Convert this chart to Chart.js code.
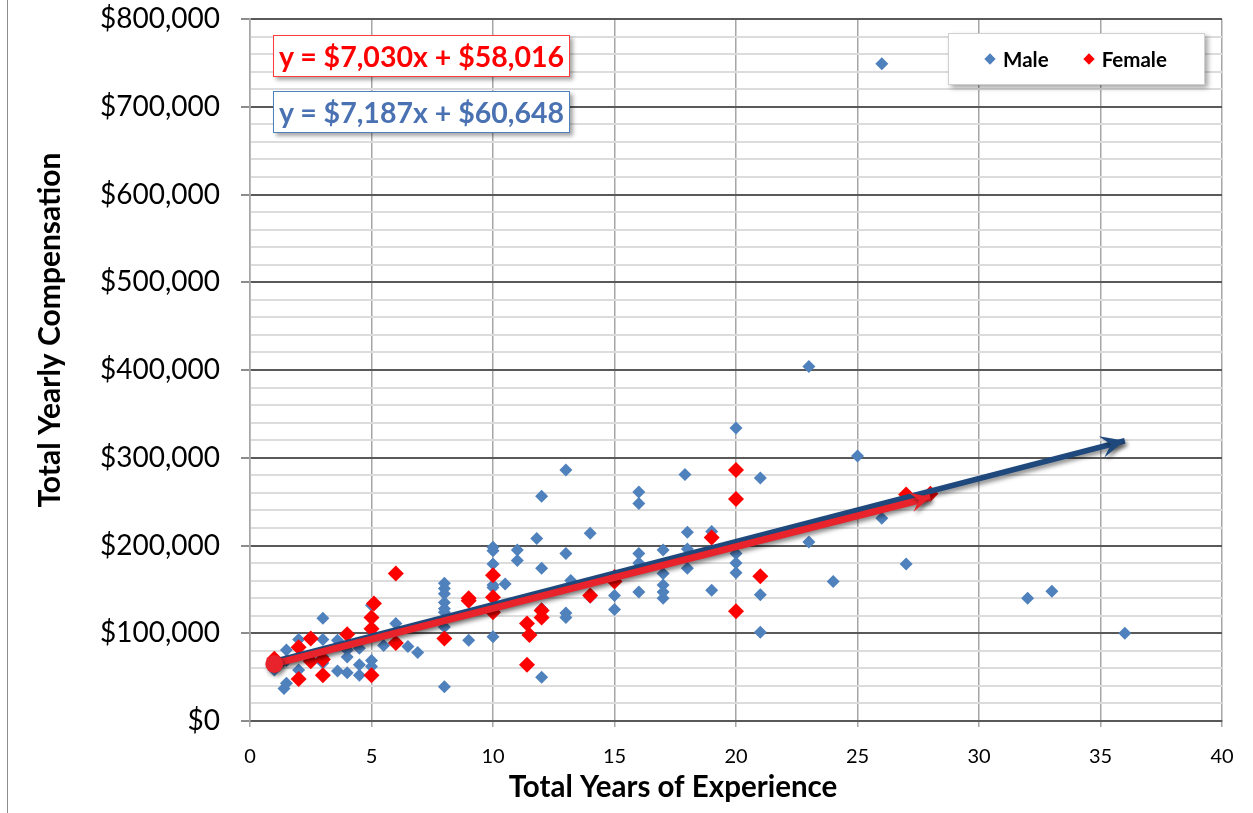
<!DOCTYPE html>
<html>
<head>
<meta charset="utf-8">
<script src="https://cdn.jsdelivr.net/npm/chart.js@4.4.1/dist/chart.umd.min.js"></script>
<style>
  html, body { margin: 0; padding: 0; background: #fff; }
  #wrap { position: relative; width: 1253px; height: 813px; }
  #frame { position: absolute; left: 7px; top: 0; width: 1px; height: 813px; background: #8c8c8c; }
  .eq { position: absolute; left: 273px; width: 295px; height: 40px; background: #fff;
        font: bold 28.5px Lato, sans-serif; text-align: center; line-height: 40px;
        box-shadow: 3px 3px 4px rgba(0,0,0,0.35); white-space: nowrap; }
  #eqF { top: 35px; border: 1px solid #ff3b3b; color: #ff0000; }
  #eqM { top: 91px; border: 1px solid #4f81bd; color: #4a72b2; }
  #legend { position: absolute; left: 948px; top: 33px; width: 255px; height: 50px; background: #fff;
            border: 1px solid #d0d0d0; box-shadow: 3px 3px 5px rgba(0,0,0,0.35);
            display: flex; align-items: center; justify-content: center; gap: 36px;
            font: bold 20.5px Lato, sans-serif; color: #000; }
  #legend .item { display: flex; align-items: center; }
  #legend .mark { width: 8px; height: 8px; transform: rotate(45deg); margin-right: 9px; }
</style>
</head>
<body>
<div id="wrap">
  <canvas id="chart" width="1253" height="813"></canvas>
  <div id="frame"></div>
  <div class="eq" id="eqF"></div>
  <div class="eq" id="eqM"></div>
  <div id="legend"></div>
</div>
<script>
// male points (years, compensation)
const maleYears = [
  1, 1.2, 1.4, 1.5, 1.5, 1.5, 2, 2, 3, 3, 3, 3, 3.6, 3.6, 4, 4, 4, 4.5, 4.5, 4.5,
  5, 5, 5, 5.5, 6, 6.5, 6.9, 8, 8, 8, 8, 8, 8, 8, 8, 9,
  10, 10, 10, 10, 10, 10, 10.5, 11, 11, 11.8, 12, 12, 12, 12, 13, 13, 13, 13, 13.2, 14, 14,
  15, 15, 16, 16, 16, 16, 16, 17, 17, 17, 17, 17, 17.9, 18, 18, 18, 19, 19, 20, 20, 20, 20, 21, 21, 21,
  23, 23, 24, 25, 26, 26, 27, 32, 33, 36
];
const maleComp = [
  58000, 64000, 37000, 43000, 69000, 81000, 58000, 93000, 66000, 73000, 93000, 117000, 57000, 92000, 55000, 73000, 81000, 52000, 64000, 83000,
  62000, 69000, 132000, 86000, 111000, 85000, 78000, 39000, 107000, 124000, 128000, 135000, 145000, 151000, 157000, 92000,
  96000, 152000, 155000, 179000, 194000, 198000, 156000, 183000, 195000, 208000, 50000, 128000, 174000, 256000, 118000, 123000, 191000, 286000, 160000, 141000, 214000,
  127000, 143000, 147000, 180000, 191000, 248000, 261000, 140000, 147000, 155000, 168000, 195000, 281000, 174000, 196000, 215000, 149000, 216000, 169000, 180000, 191000, 334000, 101000, 144000, 277000,
  204000, 404000, 159000, 302000, 231000, 749000, 179000, 140000, 148000, 100000
];
// female points
const femaleYears = [1, 1, 2, 2, 2.5, 2.5, 3, 3, 4, 5, 5, 5, 5.1, 6, 6, 8, 9, 9, 10, 10, 10,
  11.4, 11.4, 11.5, 12, 12, 14, 15, 15, 19, 20, 20, 20, 21, 27, 28];
const femaleComp = [66000, 71000, 48000, 84000, 68000, 94000, 52000, 70000, 99000, 52000, 105000, 118000, 134000, 89000, 168000, 94000, 137000, 140000, 124000, 141000, 166000,
  64000, 111000, 98000, 118000, 126000, 143000, 159000, 164000, 209000, 125000, 253000, 286000, 165000, 258000, 259000];

// trend lines: [slope, intercept, first x, last x]
const maleFit = [7187, 60648, 1, 36];
const femaleFit = [7030, 58016, 1, 28];

const xTicks = [0, 5, 10, 15, 20, 25, 30, 35, 40];
const yMax = 800000;

const BLUE = '#4f81bd', RED = '#ff0000', NAVY = '#1f497d', LINE_RED = '#e8232c';

Chart.defaults.font.family = 'Lato, sans-serif';

function pts(xs, ys) { return xs.map((x, i) => ({ x, y: ys[i] })); }
function fitLine(f) { return [f[2], f[3]].map(x => ({ x, y: f[0] * x + f[1] })); }
function money(v) { return '$' + Math.round(v).toLocaleString('en-US'); }

document.getElementById('eqF').textContent = 'y = ' + money(femaleFit[0]) + 'x + ' + money(femaleFit[1]);
document.getElementById('eqM').textContent = 'y = ' + money(maleFit[0]) + 'x + ' + money(maleFit[1]);

// shadow + arrow head for the trend lines
const trendPlugin = {
  id: 'trend',
  beforeDatasetDraw(chart, args) {
    const ds = chart.data.datasets[args.index];
    if (!ds.arrow) return;
    const ctx = chart.ctx;
    ctx.save();
    ctx.shadowColor = 'rgba(0,0,0,0.45)';
    ctx.shadowOffsetX = 2;
    ctx.shadowOffsetY = 3;
    ctx.shadowBlur = 4;
  },
  afterDatasetDraw(chart, args) {
    const ds = chart.data.datasets[args.index];
    if (!ds.arrow) return;
    const ctx = chart.ctx;
    const pts = args.meta.data;
    const a = pts[pts.length - 2], b = pts[pts.length - 1];
    const ang = Math.atan2(b.y - a.y, b.x - a.x);
    const [len, half] = ds.arrow;
    ctx.translate(b.x, b.y);
    ctx.rotate(ang);
    ctx.beginPath();
    ctx.moveTo(0, 0);
    ctx.lineTo(-len, -half);
    ctx.lineTo(-len * 0.6, 0);
    ctx.lineTo(-len, half);
    ctx.closePath();
    ctx.fillStyle = ds.borderColor;
    ctx.fill();
    ctx.restore();
  }
};

// axis titles placed like the original
const titlePlugin = {
  id: 'titles',
  afterDraw(chart) {
    const ctx = chart.ctx, ca = chart.chartArea;
    ctx.save();
    ctx.fillStyle = '#000';
    ctx.font = 'bold 29.5px Lato';
    ctx.textAlign = 'center';
    ctx.textBaseline = 'middle';
    ctx.fillText('Total Years of Experience', ca.left + 423, ca.bottom + 66);
    ctx.font = 'bold 30px Lato';
    ctx.translate(50, ca.top + 311);
    ctx.rotate(-Math.PI / 2);
    ctx.fillText('Total Yearly Compensation', 0, 0);
    ctx.restore();
  }
};

new Chart(document.getElementById('chart'), {
  type: 'scatter',
  data: {
    datasets: [
      { label: 'Female trend', data: fitLine(femaleFit), showLine: true, borderColor: LINE_RED, borderWidth: 7,
        pointRadius: [9, 0], pointBackgroundColor: LINE_RED, pointBorderWidth: 0, arrow: [20, 10], order: 0 },
      { label: 'Male trend', data: fitLine(maleFit), showLine: true, borderColor: NAVY, borderWidth: 5.5,
        pointRadius: 0, arrow: [24, 11], order: 1 },
      { label: 'Female', data: pts(femaleYears, femaleComp), pointStyle: 'rectRot', pointRadius: 8,
        backgroundColor: RED, borderColor: RED, pointBorderWidth: 0, order: 2 },
      { label: 'Male', data: pts(maleYears, maleComp), pointStyle: 'rectRot', pointRadius: 6.5,
        backgroundColor: BLUE, borderColor: BLUE, pointBorderWidth: 0, order: 3 }
    ]
  },
  plugins: [trendPlugin, titlePlugin],
  options: {
    responsive: false,
    animation: false,
    layout: { padding: { top: 19, right: 31, left: 0, bottom: 0 } },
    plugins: { legend: { display: false }, tooltip: { enabled: false } },
    scales: {
      x: {
        type: 'linear', min: 0, max: 40,
        afterBuildTicks: s => { s.ticks = xTicks.map(v => ({ value: v })); },
        afterFit: s => { s.height = 92; s.paddingLeft = 0; s.paddingRight = 0; },
        ticks: { color: '#000', font: { size: 20 }, padding: 18 },
        grid: { color: '#a6a6a6', lineWidth: 1.5, tickLength: 6, tickColor: '#a6a6a6' },
        border: { color: '#595959', width: 2 }
      },
      y: {
        min: 0, max: yMax,
        afterFit: s => { s.width = 250; s.paddingTop = 0; s.paddingBottom = 0; },
        ticks: { stepSize: 20000, autoSkip: false, color: '#000', font: { size: 28 }, padding: 21,
                 callback: v => v % 100000 === 0 ? money(v) : '' },
        grid: {
          color: c => c.tick && c.tick.value % 100000 === 0 ? '#595959' : '#dcdcdc',
          lineWidth: 2,
          tickLength: 9,
          tickColor: c => c.tick && c.tick.value % 100000 === 0 ? '#8c8c8c' : 'rgba(0,0,0,0)'
        },
        border: { color: '#a6a6a6', width: 1.5 }
      }
    }
  }
});

// legend from the point datasets
const legend = document.getElementById('legend');
[['Male', BLUE], ['Female', RED]].forEach(([name, col]) => {
  legend.insertAdjacentHTML('beforeend',
    `<div class="item"><span class="mark" style="background:${col}"></span>${name}</div>`);
});
</script>
</body>
</html>
